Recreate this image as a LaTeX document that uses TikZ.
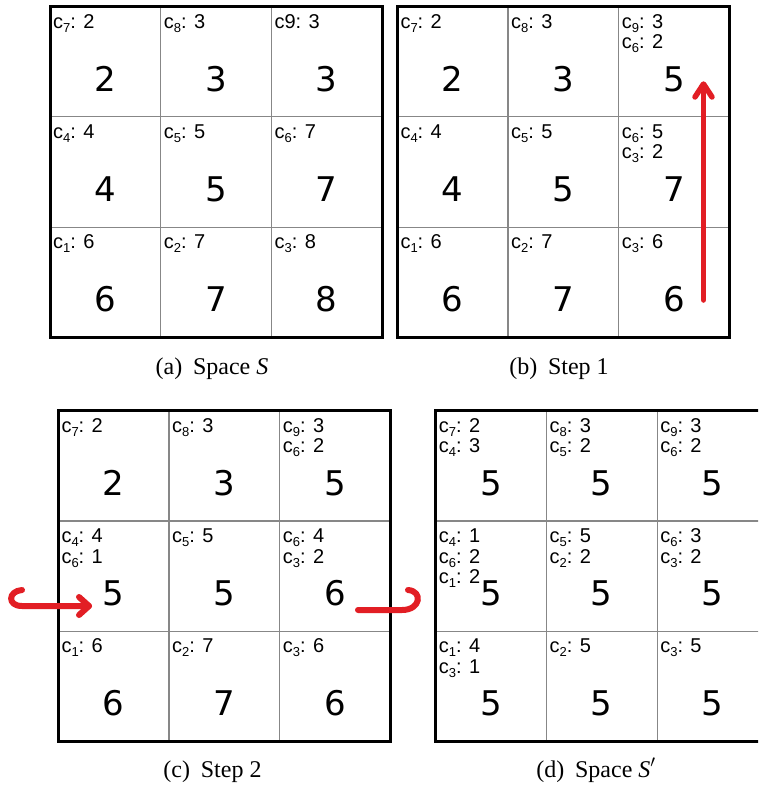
\documentclass[tikz,border=0pt]{standalone}
\usepackage{fontspec}
\setmainfont{Liberation Serif}
\newfontfamily\labfam{Liberation Sans}
\newfontfamily\numfam{DejaVu Sans}
\definecolor{arrowred}{RGB}{226,30,36}
\definecolor{gridgray}{RGB}{135,135,135}
\newcommand\labfont{\labfam\fontsize{20}{20.5}\selectfont}
\newcommand\numfont{\numfam\fontsize{34}{36}\selectfont}
\newcommand\capfont{\fontsize{24}{26}\selectfont}
\newcommand\cs[1]{c\raisebox{-4pt}{\fontsize{13}{13}\selectfont #1}}
\newcommand\numcell[4]{\node[num] (#1) at ({#2*110.7+55.35},{#3*110.3+84.5}) {#4};}
\newcommand\labline[5]{\node[lab] (#1) at ({#2*110.7+3},{#3*110.3+21.5+#4*20.5}) {#5};}
\newcommand\gridlines{%
  \draw[innerline] (110.7,0) -- (110.7,331) (221.4,0) -- (221.4,331)
                   (0,110.3) -- (332.1,110.3) (0,220.6) -- (332.1,220.6);
  \draw[outerline] (0,0) rectangle (332.1,331);}
\tikzset{
  innerline/.style={draw=gridgray, line width=1.2pt},
  outerline/.style={draw=black, line width=3pt},
  lab/.style={anchor=base west, inner sep=0pt, font=\labfont},
  num/.style={anchor=base, inner sep=0pt, font=\numfont},
  capt/.style={anchor=base, inner sep=0pt, font=\capfont},
  redline/.style={draw=arrowred, line width=6pt, line cap=round, line join=round},
}
\begin{document}
\begin{tikzpicture}[x=1pt,y=-1pt]
\clip (0,0) rectangle (758,787);
\fill[white] (0,0) rectangle (758,787);

% ---------- panel (a)
\begin{scope}[shift={(50,6.5)}]
\gridlines
\labline{a7}{0}{0}{0}{\cs{7}: 2}
\labline{a8}{1}{0}{0}{\cs{8}: 3}
\labline{a9}{2}{0}{0}{c9: 3}
\labline{a4}{0}{1}{0}{\cs{4}: 4}
\labline{a5}{1}{1}{0}{\cs{5}: 5}
\labline{a6}{2}{1}{0}{\cs{6}: 7}
\labline{a1}{0}{2}{0}{\cs{1}: 6}
\labline{a2}{1}{2}{0}{\cs{2}: 7}
\labline{a3}{2}{2}{0}{\cs{3}: 8}
\numcell{an7}{0}{0}{2}\numcell{an8}{1}{0}{3}\numcell{an9}{2}{0}{3}
\numcell{an4}{0}{1}{4}\numcell{an5}{1}{1}{5}\numcell{an6}{2}{1}{7}
\numcell{an1}{0}{2}{6}\numcell{an2}{1}{2}{7}\numcell{an3}{2}{2}{8}
\end{scope}
\node[capt] (capa) at (212,374) {(a)\hspace{0.45em}Space \textit{S}};

% ---------- panel (b)
\begin{scope}[shift={(397.3,6.5)}]
\gridlines
\labline{b7}{0}{0}{0}{\cs{7}: 2}
\labline{b8}{1}{0}{0}{\cs{8}: 3}
\labline{b9}{2}{0}{0}{\cs{9}: 3}
\labline{b9b}{2}{0}{1}{\cs{6}: 2}
\labline{b4}{0}{1}{0}{\cs{4}: 4}
\labline{b5}{1}{1}{0}{\cs{5}: 5}
\labline{b6}{2}{1}{0}{\cs{6}: 5}
\labline{b6b}{2}{1}{1}{\cs{3}: 2}
\labline{b1}{0}{2}{0}{\cs{1}: 6}
\labline{b2}{1}{2}{0}{\cs{2}: 7}
\labline{b3}{2}{2}{0}{\cs{3}: 6}
\numcell{bn7}{0}{0}{2}\numcell{bn8}{1}{0}{3}\numcell{bn9}{2}{0}{5}
\numcell{bn4}{0}{1}{4}\numcell{bn5}{1}{1}{5}\numcell{bn6}{2}{1}{7}
\numcell{bn1}{0}{2}{6}\numcell{bn2}{1}{2}{7}\numcell{bn3}{2}{2}{6}
\end{scope}
\node[capt] (capb) at (559,374) {(b)\hspace{0.45em}Step 1};
\coordinate (up0) at (703.5,300);
\coordinate (up1) at (703.5,86);
\coordinate (uptip) at (703.5,84);
\draw[redline,line width=5.5pt] (up0) -- (up1);
\draw[redline,line width=5.5pt] (695,97) -- (uptip) -- (712,97);

% ---------- panel (c)
\begin{scope}[shift={(58.3,410.7)}]
\gridlines
\labline{c7}{0}{0}{0}{\cs{7}: 2}
\labline{c8}{1}{0}{0}{\cs{8}: 3}
\labline{c9}{2}{0}{0}{\cs{9}: 3}
\labline{c9b}{2}{0}{1}{\cs{6}: 2}
\labline{c4}{0}{1}{0}{\cs{4}: 4}
\labline{c4b}{0}{1}{1}{\cs{6}: 1}
\labline{c5}{1}{1}{0}{\cs{5}: 5}
\labline{c6}{2}{1}{0}{\cs{6}: 4}
\labline{c6b}{2}{1}{1}{\cs{3}: 2}
\labline{c1}{0}{2}{0}{\cs{1}: 6}
\labline{c2}{1}{2}{0}{\cs{2}: 7}
\labline{c3}{2}{2}{0}{\cs{3}: 6}
\numcell{cn7}{0}{0}{2}\numcell{cn8}{1}{0}{3}\numcell{cn9}{2}{0}{5}
\numcell{cn4}{0}{1}{5}\numcell{cn5}{1}{1}{5}\numcell{cn6}{2}{1}{6}
\numcell{cn1}{0}{2}{6}\numcell{cn2}{1}{2}{7}\numcell{cn3}{2}{2}{6}
\end{scope}
\node[capt] (capc) at (212.5,777) {(c)\hspace{0.45em}Step 2};
\coordinate (lh0) at (22,590);
\coordinate (lh1) at (22,606);
\coordinate (lhtip) at (89,606);
\draw[redline] (lh0) .. controls (8,591) and (7,606) .. (lh1) -- (lhtip);
\draw[redline] (79,597) -- (lhtip) -- (79,615);
\coordinate (rh0) at (358,610);
\coordinate (rh1) at (402,610);
\coordinate (rh2) at (408,590);
\draw[redline] (rh0) -- (rh1) .. controls (421,610) and (423,591) .. (rh2);

% ---------- panel (d)
\begin{scope}[shift={(435.7,410.7)}]
\gridlines
\labline{d7}{0}{0}{0}{\cs{7}: 2}
\labline{d7b}{0}{0}{1}{\cs{4}: 3}
\labline{d8}{1}{0}{0}{\cs{8}: 3}
\labline{d8b}{1}{0}{1}{\cs{5}: 2}
\labline{d9}{2}{0}{0}{\cs{9}: 3}
\labline{d9b}{2}{0}{1}{\cs{6}: 2}
\labline{d4}{0}{1}{0}{\cs{4}: 1}
\labline{d4b}{0}{1}{1}{\cs{6}: 2}
\labline{d4c}{0}{1}{2}{\cs{1}: 2}
\labline{d5}{1}{1}{0}{\cs{5}: 5}
\labline{d5b}{1}{1}{1}{\cs{2}: 2}
\labline{d6}{2}{1}{0}{\cs{6}: 3}
\labline{d6b}{2}{1}{1}{\cs{3}: 2}
\labline{d1}{0}{2}{0}{\cs{1}: 4}
\labline{d1b}{0}{2}{1}{\cs{3}: 1}
\labline{d2}{1}{2}{0}{\cs{2}: 5}
\labline{d3}{2}{2}{0}{\cs{3}: 5}
\numcell{dn7}{0}{0}{5}\numcell{dn8}{1}{0}{5}\numcell{dn9}{2}{0}{5}
\numcell{dn4}{0}{1}{5}\numcell{dn5}{1}{1}{5}\numcell{dn6}{2}{1}{5}
\numcell{dn1}{0}{2}{5}\numcell{dn2}{1}{2}{5}\numcell{dn3}{2}{2}{5}
\end{scope}
\node[capt] (capd) at (596,777) {(d)\hspace{0.45em}Space \textit{S}$'$};
\end{tikzpicture}
\end{document}
